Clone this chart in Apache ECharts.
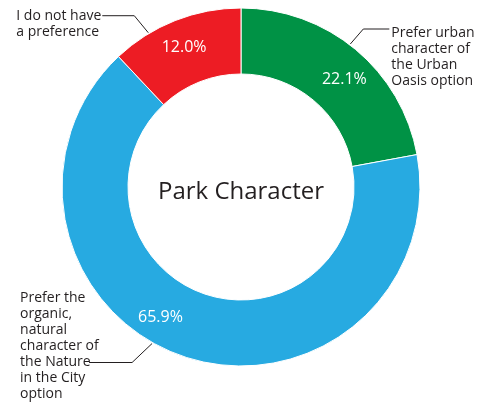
<!DOCTYPE html>
<html>
<head>
<meta charset="utf-8">
<script src="https://cdn.jsdelivr.net/npm/echarts@6/dist/echarts.min.js"></script>
<style>
* { margin: 0; padding: 0; }
html, body { background: #fff; }
#main { width: 482px; height: 405px; }
</style>
</head>
<body>
<div id="main"></div>
<script>
// slices, clockwise from 12 o'clock
const categories = [
  'Prefer urban\ncharacter of\nthe Urban\nOasis option',
  'Prefer the\norganic,\nnatural\ncharacter of\nthe Nature\nin the City\noption',
  'I do not have\na preference'
];
const values = [22.1, 65.9, 12.0];
const colors = ['#009245', '#27AAE1', '#ED1C24'];

const cx = 241, cy = 187, rIn = 113, rOut = 179;
const ink = '#231F20';

// leader lines: angle on the ring (deg from top), elbow offset, horizontal run, text offset
const leaders = [
  { angle: 37.4, dx: 13, dy: -15, len: 26, side: 'right', ty: -4 },
  { angle: 209.6, dx: -20, dy: 19, len: -43, side: 'left', ty: -72, tx: -69 },
  { angle: -31, dx: -14, dy: -17, len: -32, side: 'left', ty: -8 }
];
// nudges for the percentage labels inside the ring
const pctShift = [[8, 7], [-34, -11], [-2, -1]];

const chart = echarts.init(document.getElementById('main'));
chart.setOption({
  animation: false,
  title: {
    text: 'Park Character',
    left: 'center',
    top: 175,
    textStyle: { fontFamily: 'Open Sans', fontSize: 24, fontWeight: 'normal', color: ink }
  },
  series: [
    {
      type: 'pie',
      center: [cx, cy],
      radius: [rIn, rOut],
      startAngle: 90,
      clockwise: true,
      silent: true,
      itemStyle: { borderColor: '#fff', borderWidth: 1 },
      label: {
        position: 'inside',
        color: '#fff',
        fontFamily: 'Open Sans',
        fontSize: 16,
        formatter: p => p.value.toFixed(1) + '%'
      },
      labelLayout: function (p) {
        const s = pctShift[p.dataIndex];
        return { dx: s[0], dy: s[1] };
      },
      data: values.map((v, i) => ({ name: categories[i], value: v, itemStyle: { color: colors[i] } }))
    },
    {
      type: 'pie',
      center: [cx, cy],
      radius: [rIn, rOut],
      startAngle: 90,
      clockwise: true,
      silent: true,
      z: 5,
      itemStyle: { color: 'rgba(0,0,0,0)' },
      label: {
        position: 'outside',
        color: ink,
        fontFamily: 'Open Sans',
        fontSize: 14,
        lineHeight: 16,
        overflow: 'none',
        formatter: p => p.name
      },
      labelLine: { show: true, lineStyle: { color: ink, width: 1 } },
      labelLayout: function (p) {
        const g = leaders[p.dataIndex];
        const a = g.angle * Math.PI / 180;
        const ax = cx + (rOut + 1) * Math.sin(a), ay = cy - (rOut + 1) * Math.cos(a);
        const ex = ax + g.dx, ey = ay + g.dy;
        const fx = ex + g.len;
        let x;
        if (g.side === 'right') x = fx + 2;
        else if (g.tx !== undefined) x = fx + g.tx;
        else x = fx - p.labelRect.width - 1;
        return {
          x: x,
          y: ey + g.ty,
          align: 'left',
          verticalAlign: 'top',
          labelLinePoints: [[ax, ay], [ex, ey], [fx, ey]]
        };
      },
      data: values.map((v, i) => ({ name: categories[i], value: v }))
    }
  ]
});
</script>
</body>
</html>
